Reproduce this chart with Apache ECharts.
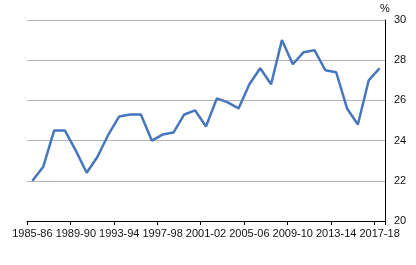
<!DOCTYPE html>
<html>
<head>
<meta charset="utf-8">
<script src="https://cdn.jsdelivr.net/npm/echarts@6/dist/echarts.min.js"></script>
<style>
html,body{margin:0;padding:0;background:#fff;}
#chart{width:416px;height:265px;}
</style>
</head>
<body>
<div id="chart"></div>
<script>
var categories = ["1985-86","1986-87","1987-88","1988-89","1989-90","1990-91","1991-92","1992-93","1993-94","1994-95","1995-96","1996-97","1997-98","1998-99","1999-00","2000-01","2001-02","2002-03","2003-04","2004-05","2005-06","2006-07","2007-08","2008-09","2009-10","2010-11","2011-12","2012-13","2013-14","2014-15","2015-16","2016-17","2017-18"];
var values = [22.0,22.7,24.5,24.5,23.5,22.4,23.2,24.3,25.2,25.3,25.3,24.0,24.3,24.4,25.3,25.5,24.7,26.1,25.9,25.6,26.8,27.6,26.8,29.0,27.8,28.4,28.5,27.5,27.4,25.6,24.8,27.0,27.6];
var yTicks = {min:20, max:30, interval:2, unit:"%"};

var chart = echarts.init(document.getElementById('chart'), null, {renderer:'canvas'});
chart.setOption({
  animation:false,
  grid:{left:27, right:31, top:20, bottom:44, containLabel:false},
  xAxis:{
    type:'category',
    data:categories,
    boundaryGap:true,
    axisLine:{show:true, lineStyle:{color:'#000', width:1}},
    axisTick:{show:true, interval:3, length:4, lineStyle:{color:'#000'}},
    axisLabel:{interval:3, color:'#111', fontFamily:'Liberation Sans, Arial, sans-serif', fontSize:11, margin:7},
    splitLine:{show:false}
  },
  yAxis:{
    type:'value',
    position:'right',
    min:yTicks.min, max:yTicks.max, interval:yTicks.interval,
    name:yTicks.unit,
    nameLocation:'end',
    nameGap:1,
    nameTextStyle:{color:'#111', fontFamily:'Liberation Sans, Arial, sans-serif', fontSize:11, align:'center'},
    axisLine:{show:true, lineStyle:{color:'#000', width:1}},
    axisTick:{show:false},
    axisLabel:{color:'#111', fontFamily:'Liberation Sans, Arial, sans-serif', fontSize:11, margin:9},
    splitLine:{show:true, lineStyle:{color:'#b4b4b4', width:1}}
  },
  series:[{
    type:'line',
    data:values,
    symbol:'none',
    smooth:false,
    lineStyle:{color:'#4676BD', width:2.5}
  }]
});
</script>
</body>
</html>
